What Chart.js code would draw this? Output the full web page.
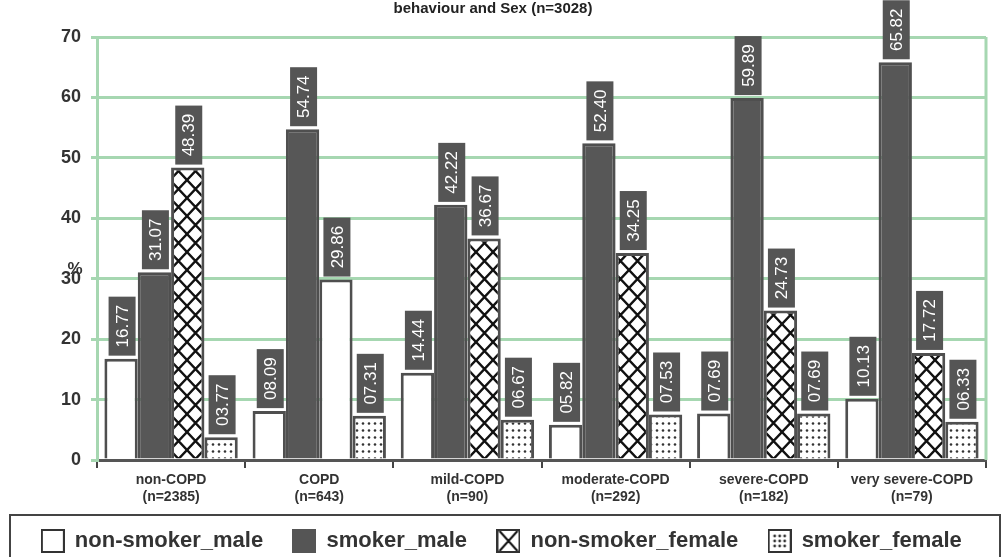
<html lang="en">
<head>
<meta charset="UTF-8">
<title>COPD smoking behaviour and sex</title>
<script src="https://cdn.jsdelivr.net/npm/chart.js@4.4.1/dist/chart.umd.min.js"></script>
<style>
  html, body { margin: 0; padding: 0; background: #fff; }
  #box { width: 1008px; height: 557px; }
</style>
</head>
<body>
<div id="box"><canvas id="mycanvas" width="1008" height="557"></canvas></div>
<script>
// data
var categories = ['non-COPD', 'COPD', 'mild-COPD', 'moderate-COPD', 'severe-COPD', 'very severe-COPD'];
var sampleSizes = ['(n=2385)', '(n=643)', '(n=90)', '(n=292)', '(n=182)', '(n=79)'];
var nonSmokerMale = [16.77, 8.09, 14.44, 5.82, 7.69, 10.13];
var smokerMale = [31.07, 54.74, 42.22, 52.40, 59.89, 65.82];
var nonSmokerFemale = [48.39, 29.86, 36.67, 34.25, 24.73, 17.72];
var smokerFemale = [3.77, 7.31, 6.67, 7.53, 7.69, 6.33];
var seriesNames = ['non-smoker_male', 'smoker_male', 'non-smoker_female', 'smoker_female'];
var yTicks = [0, 10, 20, 30, 40, 50, 60, 70];

var dark = '#4f4f4f';
var green = '#a6d7b1';
var narrow = '"Liberation Sans Narrow", "Arial Narrow", Arial, sans-serif';

// fill patterns
function crossPattern() {
    var c = document.createElement('canvas');
    c.width = 17; c.height = 18;
    var g = c.getContext('2d');
    g.fillStyle = '#fff'; g.fillRect(0, 0, 17, 18);
    g.strokeStyle = '#111'; g.lineWidth = 2.4;
    g.beginPath();
    g.moveTo(0, 0); g.lineTo(17, 18);
    g.moveTo(17, 0); g.lineTo(0, 18);
    g.stroke();
    return g.createPattern(c, 'repeat');
}
function dotPattern() {
    var c = document.createElement('canvas');
    c.width = 6; c.height = 7;
    var g = c.getContext('2d');
    g.fillStyle = '#fff'; g.fillRect(0, 0, 6, 7);
    g.fillStyle = '#333';
    g.beginPath(); g.arc(3, 3.5, 1.3, 0, Math.PI * 2); g.fill();
    return g.createPattern(c, 'repeat');
}
var cross = crossPattern();
var dots = dotPattern();

// the COPD non-smoker_female bar is plain white in the picture
var femaleFill = nonSmokerFemale.map(function (v, i) { return i === 1 ? '#fff' : cross; });

// legend icons
function icon(kind) {
    var c = document.createElement('canvas');
    c.width = 24; c.height = 24;
    var g = c.getContext('2d');
    g.fillStyle = kind === 1 ? '#555' : '#fff';
    g.fillRect(1, 1, 22, 22);
    if (kind === 3) {
        g.fillStyle = '#333';
        for (var r = 0; r < 3; r++) for (var k = 0; k < 3; k++) {
            g.beginPath(); g.arc(7 + k * 5, 7 + r * 5, 1.4, 0, Math.PI * 2); g.fill();
        }
    }
    if (kind === 2) {
        g.strokeStyle = '#111'; g.lineWidth = 2;
        g.beginPath(); g.moveTo(3, 2); g.lineTo(21, 22); g.moveTo(21, 2); g.lineTo(3, 22); g.stroke();
    }
    g.strokeStyle = kind === 1 ? '#555' : '#333';
    g.lineWidth = 2;
    g.strokeRect(1, 1, 22, 22);
    return c;
}
var icons = [icon(0), icon(1), icon(2), icon(3)];

// value boxes above the bars
var valueBoxes = {
    id: 'valueBoxes',
    afterDatasetsDraw: function (chart) {
        var ctx = chart.ctx;
        ctx.save();
        chart.data.datasets.forEach(function (ds, di) {
            chart.getDatasetMeta(di).data.forEach(function (bar, i) {
                var v = ds.data[i];
                var txt = v.toFixed(2).padStart(5, '0');
                var w = 27, h = 59;
                var x = bar.x - w / 2 + 1, y = bar.y - 3 - h;
                ctx.fillStyle = '#555';
                ctx.fillRect(x, y, w, h);
                ctx.save();
                ctx.translate(bar.x + 1, y + h / 2);
                ctx.rotate(-Math.PI / 2);
                ctx.fillStyle = '#fff';
                ctx.font = '17px Arial, "Liberation Sans", sans-serif';
                ctx.textAlign = 'center';
                ctx.textBaseline = 'middle';
                ctx.fillText(txt, 0, 1);
                ctx.restore();
            });
        });
        ctx.restore();
    }
};

// right border, % sign, legend frame
var frame = {
    id: 'frame',
    afterLayout: function (chart) {
        // nudge the legend row right and down a little
        var lg = chart.legend;
        lg.left += 18; lg.right += 18;
        lg.top += 5; lg.bottom += 5;
    },
    afterDraw: function (chart) {
        var ctx = chart.ctx, a = chart.chartArea, ys = chart.scales.y;
        ctx.save();
        ctx.strokeStyle = green; ctx.lineWidth = 3;
        ctx.beginPath(); ctx.moveTo(a.right, a.top); ctx.lineTo(a.right, a.bottom); ctx.stroke();
        ctx.fillStyle = '#333';
        ctx.font = 'bold 17px ' + narrow;
        ctx.textAlign = 'center'; ctx.textBaseline = 'middle';
        ctx.fillText('%', ys.right - 22, ys.getPixelForValue(31.5));
        var lg = chart.legend;
        ctx.strokeStyle = '#444'; ctx.lineWidth = 2;
        ctx.strokeRect(10, lg.top - 3, chart.width - 18, lg.height + 6);
        ctx.restore();
    }
};

var ctx = document.getElementById('mycanvas');
var chart = new Chart(ctx, {
    type: 'bar',
    data: {
        labels: categories.map(function (c, i) { return [c, sampleSizes[i]]; }),
        datasets: [
            { label: seriesNames[0], data: nonSmokerMale, backgroundColor: '#fff' },
            { label: seriesNames[1], data: smokerMale, backgroundColor: '#575757' },
            { label: seriesNames[2], data: nonSmokerFemale, backgroundColor: femaleFill },
            { label: seriesNames[3], data: smokerFemale, backgroundColor: dots }
        ]
    },
    options: {
        responsive: false,
        animation: false,
        layout: { padding: { left: 0, right: 22, top: 0, bottom: 0 } },
        datasets: {
            bar: {
                borderColor: dark,
                borderWidth: 3,
                categoryPercentage: 0.9,
                barPercentage: 1.0
            }
        },
        plugins: {
            title: {
                display: true,
                text: 'behaviour and Sex (n=3028)',
                color: '#222',
                font: { family: narrow, size: 15, weight: 'bold' },
                padding: { top: 0, bottom: 19 }
            },
            tooltip: { enabled: false },
            legend: {
                position: 'bottom',
                labels: {
                    usePointStyle: true,
                    boxWidth: 22,
                    padding: 12,
                    color: '#333',
                    font: { family: 'Arial, "Liberation Sans", sans-serif', size: 22, weight: 'bold' },
                    generateLabels: function (chart) {
                        // trailing spaces widen the gap between items without a taller legend
                        return seriesNames.map(function (n, i) {
                            return { text: n + '\u00a0\u00a0\u00a0', pointStyle: icons[i], datasetIndex: i, hidden: false, lineWidth: 0, fontColor: '#333' };
                        });
                    }
                }
            }
        },
        scales: {
            x: {
                grid: { drawOnChartArea: false, color: '#444', lineWidth: 2, tickLength: 8 },
                border: { color: '#555', width: 3 },
                ticks: {
                    color: '#333',
                    padding: 4,
                    font: { family: narrow, size: 14, weight: 'bold' },
                    maxRotation: 0
                },
                afterFit: function (s) { s.height = 53; }
            },
            y: {
                min: 0,
                max: 70,
                afterBuildTicks: function (s) { s.ticks = yTicks.map(function (v) { return { value: v }; }); },
                grid: { color: green, lineWidth: 3, tickLength: 6 },
                border: { color: green, width: 3 },
                ticks: {
                    color: '#333',
                    padding: 10,
                    font: { family: narrow, size: 18, weight: 'bold' }
                },
                afterFit: function (s) { s.width = 97; }
            }
        }
    },
    plugins: [valueBoxes, frame]
});
</script>
</body>
</html>
